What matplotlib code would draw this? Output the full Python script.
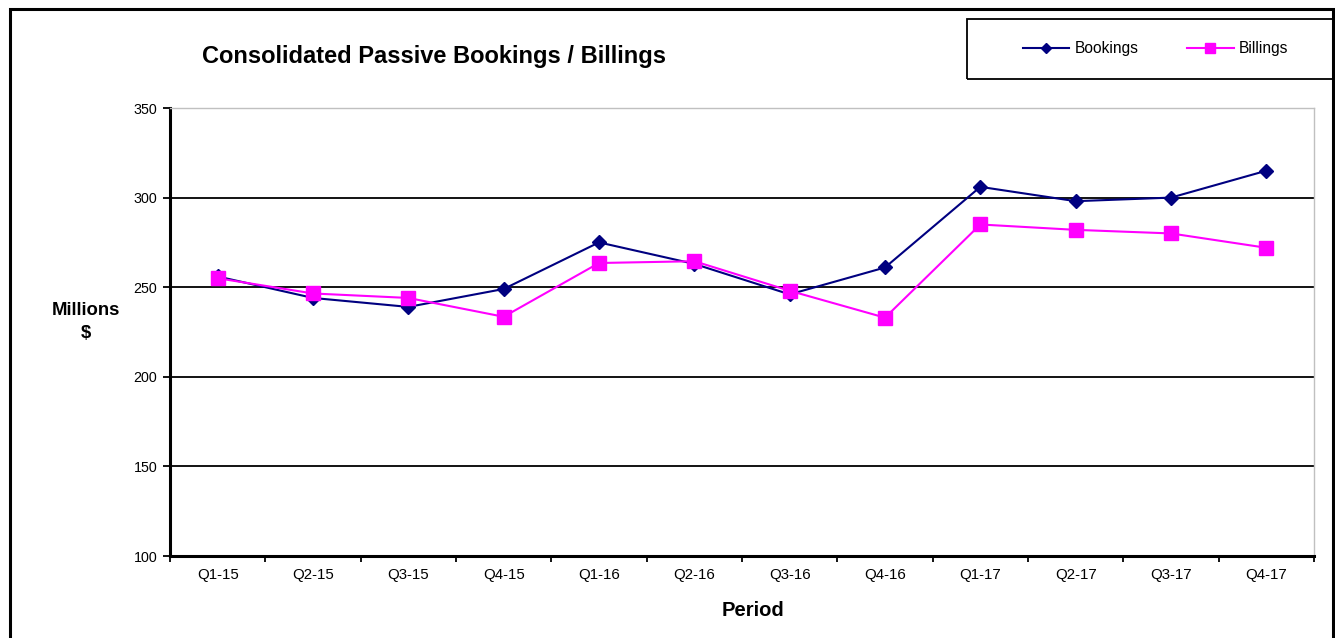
import matplotlib
matplotlib.use("Agg")
import matplotlib.pyplot as plt
from matplotlib.patches import Rectangle
from matplotlib.lines import Line2D
import numpy as np

plt.rcParams['font.family'] = ['Liberation Sans', 'DejaVu Sans']

periods = ["Q1-15", "Q2-15", "Q3-15", "Q4-15", "Q1-16", "Q2-16",
           "Q3-16", "Q4-16", "Q1-17", "Q2-17", "Q3-17", "Q4-17"]
bookings = [256, 244, 239, 249, 275, 263, 246, 261, 306, 298, 300, 315]
billings = [255, 246.5, 244, 233.5, 263.5, 264.5, 248, 233, 285, 282, 280, 272]
y_ticks = [100, 150, 200, 250, 300, 350]

W, H = 1335, 638
fig = plt.figure(figsize=(W / 100, H / 100), dpi=100)
ax = fig.add_axes([170 / W, 1 - 556 / H, (1314 - 170) / W, (556 - 108) / H])

x = np.arange(len(periods))
navy = "#000080"
magenta = "#FF00FF"

ax.plot(x, bookings, color=navy, lw=1.5, marker="D", ms=7.5,
        markerfacecolor=navy, markeredgecolor=navy, zorder=4, label="Bookings")
ax.plot(x, billings, color=magenta, lw=1.5, marker="s", ms=10,
        markerfacecolor=magenta, markeredgecolor=magenta, zorder=5, label="Billings")

ax.set_xlim(-0.5, len(periods) - 0.5)
ax.set_ylim(100, 350)

# horizontal grid
for v in y_ticks[1:-1]:
    ax.axhline(v, color="black", lw=1.3, zorder=1)

ax.set_yticks(y_ticks)
ax.set_yticklabels([str(v) for v in y_ticks], fontsize=10.3)
ax.tick_params(axis="y", direction="out", length=5, width=1.3, pad=4)

ax.set_xticks(x)
ax.set_xticklabels(periods, fontsize=10.8)
ax.tick_params(axis="x", which="major", length=0, pad=9)
ax.set_xticks(np.arange(-0.5, len(periods)), minor=True)
ax.tick_params(axis="x", which="minor", direction="out", length=4, width=1.3)

for side in ("left", "bottom"):
    ax.spines[side].set_linewidth(2.2)
    ax.spines[side].set_color("black")
for side in ("top", "right"):
    ax.spines[side].set_linewidth(1.0)
    ax.spines[side].set_color("#C0C0C0")

fig.text(202 / W, 1 - 57 / H, "Consolidated Passive Bookings / Billings",
         fontsize=17, fontweight="bold", ha="left", va="center")
fig.text(86 / W, 1 - 322 / H, "Millions\n$", fontsize=13.3, fontweight="bold",
         ha="center", va="center", linespacing=1.4)
fig.text(753 / W, 1 - 611 / H, "Period", fontsize=14.5, fontweight="bold",
         ha="center", va="center")

# outer frame
fig.patches.append(Rectangle((10 / W, -0.05), (1333 - 10) / W, 1 - 9 / H + 0.05,
                             transform=fig.transFigure, fill=False,
                             edgecolor="black", lw=2.2, zorder=0))

# legend box
lx0, ly0, lx1, ly1 = 967, 19, 1340, 79
fig.patches.append(Rectangle((lx0 / W, 1 - ly1 / H), (lx1 - lx0) / W, (ly1 - ly0) / H,
                             transform=fig.transFigure, fill=False,
                             edgecolor="black", lw=1.3, zorder=0))
handles = [Line2D([], [], color=navy, lw=1.5, marker="D", ms=5.5),
           Line2D([], [], color=magenta, lw=1.5, marker="s", ms=7)]
fig.legend(handles, ["Bookings", "Billings"], loc="center",
           bbox_to_anchor=(((1021 + 1290) / 2) / W, 1 - 49 / H),
           ncol=2, frameon=False, fontsize=11.2, handlelength=3.0,
           handletextpad=0.35, columnspacing=3.1)

fig.savefig("out.png", dpi=100)
